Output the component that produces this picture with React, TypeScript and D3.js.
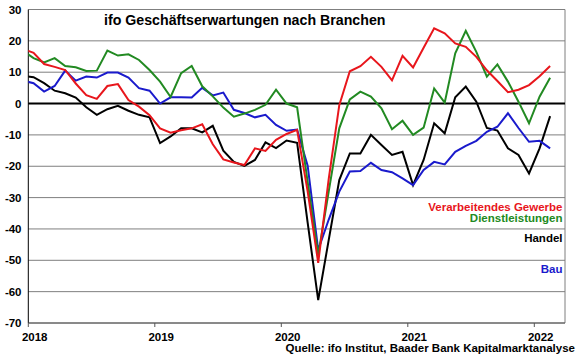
import React from "react";
import * as d3 from "d3";

// Monthly values, Dec 2017 .. Feb 2022
const startYear = 2018;
const verarbeitendes = [
  17.4,
  16.2, 12.6, 11.7, 10.7, 6.4, 2.7, 1.5, 5.6, 6.2, 1.1, -1.0, -3.7,
  -7.9, -9.3, -8.5, -7.9, -6.6, -13.0, -17.8, -18.8, -19.6, -14.3, -15.1, -11.6,
  -9.7, -8.4, -28.0, -50.8, -24.0, -0.5, 10.3, 11.9, 14.9, 11.7, 7.4, 15.2,
  11.5, 17.8, 24.0, 22.4, 19.2, 18.1, 14.9, 10.6, 7.2, 3.6, 4.4, 5.9,
  8.7, 12.0,
];
const dienstleistungen = [
  16.8,
  14.5, 13.1, 14.5, 12.0, 11.6, 10.4, 10.5, 16.9, 15.3, 15.7, 13.9, 10.7,
  7.0, 2.1, 9.7, 12.0, 5.5, 2.3, -1.3, -4.2, -3.2, -2.0, -0.4, 4.4,
  0.0, -1.2, -25.0, -48.3, -28.0, -7.9, 1.3, 3.8, 2.2, -1.5, -8.2, -5.5,
  -10.0, -7.7, 4.8, 0.3, 16.0, 23.2, 16.5, 8.6, 12.5, 7.0, 0.6, -6.3,
  2.2, 8.2,
];
const handel = [
  8.8,
  8.4, 6.5, 4.1, 3.3, 1.9, -1.2, -3.6, -1.8, -0.7, -2.3, -3.6, -4.4,
  -12.6, -10.5, -7.9, -7.9, -9.2, -7.1, -15.0, -18.6, -19.9, -18.0, -12.4, -14.2,
  -11.8, -12.5, -38.0, -62.7, -43.5, -24.4, -15.9, -15.9, -10.0, -13.2, -16.4, -15.4,
  -26.0, -18.0, -6.3, -9.5, 2.0, 5.4, 0.6, -7.8, -8.6, -14.3, -16.4, -22.3,
  -14.3, -4.0,
];
const bau = [
  7.3,
  6.5, 3.8, 5.6, 10.5, 7.3, 8.6, 8.3, 9.9, 9.9, 8.3, 4.9, 4.1,
  0.0, 2.0, 2.0, 1.9, 5.0, 2.6, 3.5, -2.0, -3.0, -4.4, -3.6, -6.8,
  -8.7, -8.3, -19.8, -46.7, -37.0, -28.1, -21.7, -21.5, -18.9, -21.2, -21.9, -23.9,
  -26.0, -21.2, -18.6, -19.4, -15.4, -13.5, -11.9, -9.0, -7.4, -3.1, -7.8, -12.2,
  -11.9, -14.3,
];
const yTicks = [30, 20, 10, 0, -10, -20, -30, -40, -50, -60, -70];
const xYears = [2018, 2019, 2020, 2021, 2022];

const seriesList = [
  { name: "Handel", values: handel, color: "#000000" },
  { name: "Bau", values: bau, color: "#1a1acc" },
  { name: "Dienstleistungen", values: dienstleistungen, color: "#228a22" },
  { name: "Verarbeitendes Gewerbe", values: verarbeitendes, color: "#e8161c" },
];
const legend = [
  { name: "Verarbeitendes Gewerbe", color: "#e8161c", y: 210.8 },
  { name: "Dienstleistungen", color: "#228a22", y: 222.4 },
  { name: "Handel", color: "#000000", y: 242.4 },
  { name: "Bau", color: "#1a1acc", y: 273 },
];

const W = 580, H = 359;
const L = 28.3, R = 565, T = 9.5, B = 323;

export default function App() {
  const x = d3.scaleLinear().domain([2018, 2022]).range([L, 534.3]);
  const y = d3.scaleLinear().domain([-70, 30]).range([B, T]);
  const t = (k: number) => startYear + (k - 1 + 0.5) / 12;
  const line = d3
    .line<number>()
    .x((_, k) => x(t(k)))
    .y((v) => y(v));
  const font = "Arial, 'Liberation Sans', sans-serif";
  return (
    <svg width={W} height={H} style={{ position: "absolute", left: 0, top: 0, background: "#fff" }}>
      <defs>
        <clipPath id="plot">
          <rect x={L} y={0} width={R - L} height={H} />
        </clipPath>
      </defs>
      <rect width={W} height={H} fill="#fff" />
      {yTicks.map((v) => (
        <line key={v} x1={L} x2={R} y1={y(v)} y2={y(v)} stroke="#7f7f7f" strokeWidth={1} />
      ))}
      <line x1={R} x2={R} y1={T} y2={B} stroke="#7f7f7f" strokeWidth={1} />
      <line x1={L} x2={L} y1={T} y2={B} stroke="#000" strokeWidth={1} />
      <line x1={L} x2={R} y1={B} y2={B} stroke="#555" strokeWidth={1} />
      {xYears.map((yr) => (
        <line key={yr} x1={x(yr)} x2={x(yr)} y1={B} y2={B + 4} stroke="#555" strokeWidth={1} />
      ))}
      <line x1={L} x2={R} y1={y(0)} y2={y(0)} stroke="#000" strokeWidth={2} />
      <g clipPath="url(#plot)">
        {seriesList.map((s) => (
          <path key={s.name} d={line(s.values) || ""} fill="none" stroke={s.color} strokeWidth={2} strokeLinejoin="miter" />
        ))}
      </g>
      <g fontFamily={font} fontWeight="bold" fontSize={11.5} fill="#000">
        {yTicks.map((v) => (
          <text key={v} x={21.5} y={y(v) + 4} textAnchor="end">{v}</text>
        ))}
        {xYears.map((yr) => (
          <text key={yr} x={x(yr) + 6.4} y={341} textAnchor="middle">{yr}</text>
        ))}
        {legend.map((l) => (
          <text key={l.name} x={562.5} y={l.y} textAnchor="end" fill={l.color}>{l.name}</text>
        ))}
        <text x={575} y={352.3} textAnchor="end">Quelle: ifo Institut, Baader Bank Kapitalmarktanalyse</text>
      </g>
      <text x={104} y={24.5} fontFamily={font} fontWeight="bold" fontSize={14.2} fill="#000">
        ifo Geschäftserwartungen nach Branchen
      </text>
    </svg>
  );
}
